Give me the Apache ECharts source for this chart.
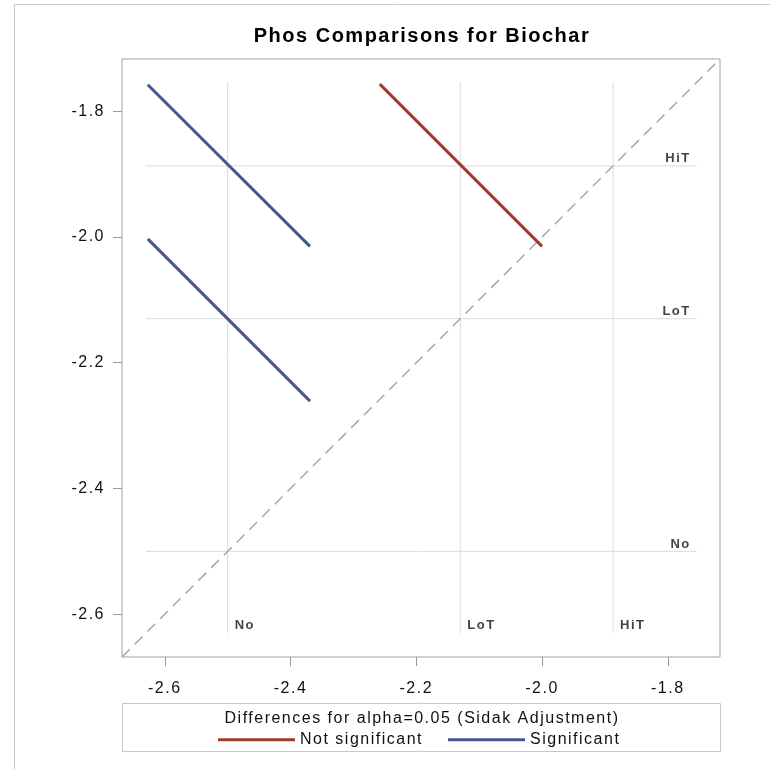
<!DOCTYPE html>
<html>
<head>
<meta charset="utf-8">
<script src="https://cdn.jsdelivr.net/npm/echarts@6/dist/echarts.min.js"></script>
<style>
html,body{margin:0;padding:0;background:#fff;}
#chart{width:770px;height:769px;}
</style>
</head>
<body>
<div id="chart"></div>
<script>
// ---- data ----
const categories = ['No', 'LoT', 'HiT'];
const lsMeans = [-2.500, -2.130, -1.887];
const axisRange = [-2.668, -1.717];
const tickValues = [-2.6, -2.4, -2.2, -2.0, -1.8];
const refSpan = [-2.630, -1.754];
// comparison segments (x = one level's mean side, y = other's)
const hitLotX = [-2.258, -2.000];   // HiT vs LoT : not significant
const hitLotY = [-1.757, -2.015];
const hitNoX = [-2.627, -2.369];    // HiT vs No : significant
const hitNoY = [-1.758, -2.015];
const lotNoX = [-2.627, -2.369];    // LoT vs No : significant
const lotNoY = [-2.003, -2.261];

const titleText = 'Phos Comparisons for Biochar';
const legendTitle = 'Differences for alpha=0.05 (Sidak Adjustment)';
const notSigName = 'Not significant';
const sigName = 'Significant';

// The reference text is drawn with a slight letter spacing.
(function () {
  const P = window.CanvasRenderingContext2D && CanvasRenderingContext2D.prototype;
  if (!P || !('letterSpacing' in P)) return;
  const LS = '1.5px';
  const f = P.fillText, s = P.strokeText, m = P.measureText;
  P.fillText = function () { this.letterSpacing = LS; return f.apply(this, arguments); };
  P.strokeText = function () { this.letterSpacing = LS; return s.apply(this, arguments); };
  P.measureText = function () { this.letterSpacing = LS; return m.apply(this, arguments); };
})();

const RED = '#A23A2E', BLUE = '#445694';
const FONT = '"Liberation Sans", Arial, sans-serif';
const TXT = '#111';

const chart = echarts.init(document.getElementById('chart'), null, {renderer: 'canvas'});

function pts(xs, ys) { return xs.map((x, i) => [x, ys[i]]); }

const series = [];
// reference lines
lsMeans.forEach((m) => {
  series.push({
    type: 'line', silent: true, symbol: 'none', z: 1,
    lineStyle: {color: '#DCDCDC', width: 1},
    data: [[refSpan[0], m], [refSpan[1], m]]
  });
  series.push({
    type: 'line', silent: true, symbol: 'none', z: 1,
    lineStyle: {color: '#DCDCDC', width: 1},
    data: [[m, refSpan[0]], [m, refSpan[1]]]
  });
});
// labels of reference lines
series.push({
  type: 'scatter', silent: true, symbolSize: 0, z: 3,
  data: lsMeans.map((m, i) => ({value: [refSpan[1], m], name: categories[i]})),
  label: {show: true, position: [0, 0], align: 'right', verticalAlign: 'bottom', offset: [-6, 0],
    formatter: p => p.name, fontFamily: FONT, fontSize: 13, fontWeight: 'bold', color: TXT}
});
series.push({
  type: 'scatter', silent: true, symbolSize: 0, z: 3,
  data: lsMeans.map((m, i) => ({value: [m, refSpan[0]], name: categories[i]})),
  label: {show: true, position: [0, 0], align: 'left', verticalAlign: 'bottom', offset: [7, 0],
    formatter: p => p.name, fontFamily: FONT, fontSize: 13, fontWeight: 'bold', color: TXT}
});
// diagonal
series.push({
  type: 'line', silent: true, symbol: 'none', z: 2,
  lineStyle: {color: '#A8A8A8', width: 1.5, type: [11, 7]},
  data: [[axisRange[0], axisRange[0]], [axisRange[1], axisRange[1]]]
});
// comparisons
series.push({
  name: notSigName, type: 'line', symbol: 'none', z: 5,
  lineStyle: {color: RED, width: 3}, itemStyle: {color: RED},
  data: pts(hitLotX, hitLotY)
});
series.push({
  name: sigName, type: 'line', symbol: 'none', z: 5,
  lineStyle: {color: BLUE, width: 3}, itemStyle: {color: BLUE},
  data: pts(hitNoX, hitNoY)
});
series.push({
  name: sigName, type: 'line', symbol: 'none', z: 5,
  lineStyle: {color: BLUE, width: 3}, itemStyle: {color: BLUE},
  data: pts(lotNoX, lotNoY)
});

const axisCommon = {
  type: 'value', min: axisRange[0], max: axisRange[1],
  axisLine: {show: false},
  splitLine: {show: false},
  axisTick: {show: true, length: 9, lineStyle: {color: '#999'}, customValues: tickValues},
  axisLabel: {customValues: tickValues, formatter: v => v.toFixed(1),
    fontFamily: FONT, fontSize: 16, color: TXT}
};

const legendCommon = {
  icon: 'rect', itemWidth: 77, itemHeight: 3, top: 731, padding: 0,
  textStyle: {fontFamily: FONT, fontSize: 16, color: TXT}
};

chart.setOption({
  animation: false,
  backgroundColor: '#fff',
  grid: {left: 122, top: 59, width: 598, height: 598, show: true, borderColor: '#A0A0A0', borderWidth: 1},
  xAxis: Object.assign({}, axisCommon, {axisLabel: Object.assign({}, axisCommon.axisLabel, {margin: 23})}),
  yAxis: Object.assign({}, axisCommon, {axisLabel: Object.assign({}, axisCommon.axisLabel, {margin: 17})}),
  legend: [
    Object.assign({}, legendCommon, {data: [notSigName], left: 218}),
    Object.assign({}, legendCommon, {data: [sigName], left: 448})
  ],
  graphic: [
    {type: 'rect', silent: true, z: -10, shape: {x: 14.5, y: 4.5, width: 800, height: 800},
     style: {fill: '#fff', stroke: '#C8C8C8', lineWidth: 1}},
    {type: 'text', silent: true, x: 422, y: 36,
     style: {text: titleText, fontFamily: FONT, fontSize: 20, fontWeight: 'bold', fill: '#000',
       textAlign: 'center', textVerticalAlign: 'middle'}},
    {type: 'rect', silent: true, z: -5, shape: {x: 122.5, y: 703.5, width: 598, height: 48},
     style: {fill: '#fff', stroke: '#C8C8C8', lineWidth: 1}},
    {type: 'text', silent: true, x: 422, y: 719,
     style: {text: legendTitle, fontFamily: FONT, fontSize: 16, fill: TXT,
       textAlign: 'center', textVerticalAlign: 'middle'}}
  ],
  series: series
});
</script>
</body>
</html>
